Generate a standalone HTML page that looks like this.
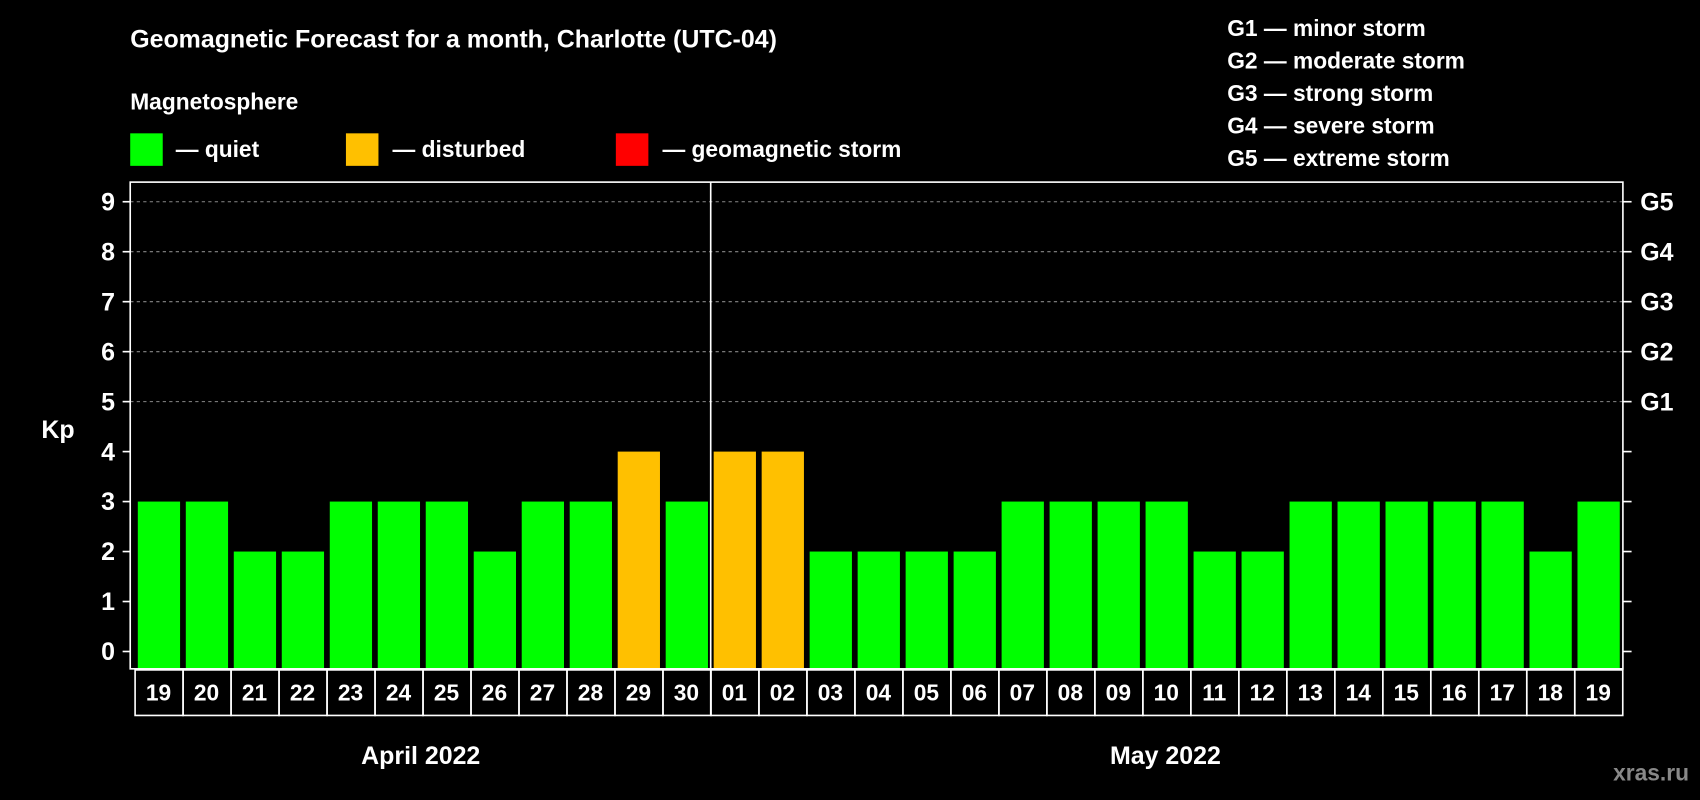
<!DOCTYPE html>
<html><head><meta charset="utf-8"><style>
html,body{margin:0;padding:0;background:#000;}
svg{display:block;font-family:"Liberation Sans",Arial,sans-serif;font-weight:bold;}
</style></head><body>
<svg id="chart" width="1700" height="800" viewBox="0 0 1568 738" xmlns="http://www.w3.org/2000/svg">
<rect width="1568" height="738" fill="#000"/>
<text x="120" y="44" fill="#fff" font-size="23">Geomagnetic Forecast for a month, Charlotte (UTC-04)</text>
<text x="120" y="101" fill="#fff" font-size="21">Magnetosphere</text>
<g><rect x="120" y="123" width="30" height="30" fill="#00ff00"/><text x="162" y="145" fill="#fff" font-size="21">— quiet</text></g>
<g><rect x="319" y="123" width="30" height="30" fill="#ffc000"/><text x="362" y="145" fill="#fff" font-size="21">— disturbed</text></g>
<g><rect x="568" y="123" width="30" height="30" fill="#ff0000"/><text x="611" y="145" fill="#fff" font-size="21">— geomagnetic storm</text></g>
<g fill="#fff" font-size="21">
<text x="1132" y="33">G1 — minor storm</text>
<text x="1132" y="63">G2 — moderate storm</text>
<text x="1132" y="93">G3 — strong storm</text>
<text x="1132" y="123">G4 — severe storm</text>
<text x="1132" y="153">G5 — extreme storm</text>
</g>
<text x="38" y="404" fill="#fff" font-size="23">Kp</text>
<g id="grid"></g>
<g id="bars"></g>
<rect x="120" y="168" width="1377" height="449" fill="none" stroke="#fff" stroke-width="1.5"/>
<line x1="655.5" y1="168" x2="655.5" y2="660" stroke="#fff" stroke-width="1.5"/>
<g id="dates"></g>
<text x="388" y="705" fill="#fff" font-size="23" text-anchor="middle">April 2022</text>
<text x="1075" y="705" fill="#fff" font-size="23" text-anchor="middle">May 2022</text>
<text x="1558" y="720" fill="#888" font-size="21" text-anchor="end">xras.ru</text>
</svg>
<script>
const days=["19","20","21","22","23","24","25","26","27","28","29","30","01","02","03","04","05","06","07","08","09","10","11","12","13","14","15","16","17","18","19"];
const kpValues=[3,3,2,2,3,3,3,2,3,3,4,3,4,4,2,2,2,2,3,3,3,3,2,2,3,3,3,3,3,2,3];
const yTicks=[0,1,2,3,4,5,6,7,8,9];
const gLabels=["G1","G2","G3","G4","G5"];
const NS="http://www.w3.org/2000/svg";
const y0=601,unit=46.1,plotBottom=617,x0=124,pitch=44.27;
const y=v=>y0-unit*v;
const x=i=>x0+i*pitch;
function mk(tag,attrs,parent,txt){const e=document.createElementNS(NS,tag);for(const k in attrs)e.setAttribute(k,attrs[k]);if(txt!==undefined)e.textContent=txt;parent.appendChild(e);return e;}
const grid=document.getElementById('grid'),bars=document.getElementById('bars'),dates=document.getElementById('dates');
yTicks.forEach(t=>{
  if(t>=5){const l=mk('line',{x1:120,x2:1497,y1:y(t),y2:y(t),stroke:'#888','stroke-dasharray':'3,3','stroke-width':1},grid);
  
  }
  const tl=mk('line',{x1:113,x2:120,y1:y(t),y2:y(t),stroke:'#fff','stroke-width':1.5},grid);
  
  
  const tr=mk('line',{x1:1497,x2:1505,y1:y(t),y2:y(t),stroke:'#fff','stroke-width':1.5},grid);
  
  
  const lb=mk('text',{x:106,y:y(t)+8,fill:'#fff','font-size':23,'text-anchor':'end'},grid,String(t));
  
  
});
gLabels.forEach((g,i)=>{
  const lb=mk('text',{x:1513,y:y(5+i)+8,fill:'#fff','font-size':23},grid,g);
  
  
});
kpValues.forEach((v,i)=>{
  const r=mk('rect',{x:x(i)+3,y:y(v),width:39,height:plotBottom-y(v),fill:v>=5?'#ff0000':(v>=4?'#ffc000':'#00ff00')},bars);
  
  
});
days.forEach((d,i)=>{
  const r=mk('rect',{x:x(i)+0.5,y:618,width:pitch,height:42,fill:'none',stroke:'#fff','stroke-width':1.5},dates);
  
  
  const t=mk('text',{x:x(i)+pitch/2,y:646,fill:'#fff','font-size':21,'text-anchor':'middle'},dates,d);
  
  
});
</script>
</body></html>
